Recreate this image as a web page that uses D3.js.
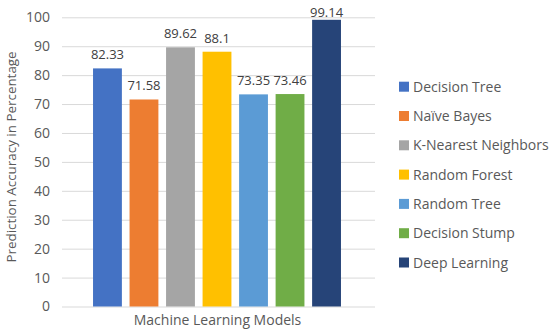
<!DOCTYPE html>
<html><head><meta charset="utf-8">
<script src="https://cdn.jsdelivr.net/npm/d3@7"></script>
<style>body{margin:0;background:#fff}svg{display:block}text{font-family:"Open Sans",sans-serif}</style>
</head><body><svg id="c" width="550" height="332"></svg>
<script>
const categories = ["Decision Tree","Naïve Bayes","K-Nearest Neighbors","Random Forest","Random Tree","Decision Stump","Deep Learning"];
const values = [82.33, 71.58, 89.62, 88.1, 73.35, 73.46, 99.14];
const valueLabels = ["82.33","71.58","89.62","88.1","73.35","73.46","99.14"];
const colors = ["#4472C4","#ED7D31","#A5A5A5","#FFC000","#5B9BD5","#70AD47","#264478"];
const yTicks = [0,10,20,30,40,50,60,70,80,90,100];

const svg = d3.select("#c");
const plot = {left:62, right:375, top:17.3, bottom:306.5};
const y = d3.scaleLinear().domain([0,100]).range([plot.bottom, plot.top]);
const x = d3.scaleBand().domain(categories).range([62,372]).paddingInner(0.21).paddingOuter(0.85);

// gridlines
const yAxis = d3.axisLeft(y).tickValues(yTicks).tickSize(-(plot.right-plot.left)).tickPadding(12);
const gy = svg.append("g").attr("transform",`translate(${plot.left},0)`).call(yAxis);
gy.select(".domain").remove();
gy.selectAll(".tick line").attr("stroke","#D9D9D9").attr("stroke-width",1);
gy.selectAll(".tick text").attr("fill","#595959").style("font-size","14px").style("font-family","'Open Sans',sans-serif");

svg.append("g").selectAll("rect").data(categories).join("rect")
  .attr("x",d=>x(d)).attr("width",x.bandwidth())
  .attr("y",(d,i)=>y(values[i])).attr("height",(d,i)=>y(0)-y(values[i]))
  .attr("fill",(d,i)=>colors[i]);

svg.append("g").selectAll("text").data(categories).join("text")
  .attr("x",d=>x(d)+x.bandwidth()/2).attr("y",(d,i)=>Math.max(y(values[i])-9, 16.5))
  .attr("text-anchor","middle").attr("fill","#404040").style("font-size","13px")
  .text((d,i)=>valueLabels[i]);

svg.append("text").attr("transform",`translate(15.5,157) rotate(-90)`)
  .attr("text-anchor","middle").attr("fill","#595959").style("font-size","13.4px")
  .text("Prediction Accuracy in Percentage");
svg.append("text").attr("x",217.5).attr("y",325).attr("text-anchor","middle")
  .attr("fill","#595959").style("font-size","14px").text("Machine Learning Models");

const lg = svg.append("g").selectAll("g").data(categories).join("g")
  .attr("transform",(d,i)=>`translate(399,${86.7+i*29.3})`);
lg.append("rect").attr("x",0).attr("y",-5).attr("width",10).attr("height",10).attr("fill",(d,i)=>colors[i]);
lg.append("text").attr("x",14).attr("y",5).attr("fill","#595959").style("font-size","14px").text(d=>d);
</script></body></html>
